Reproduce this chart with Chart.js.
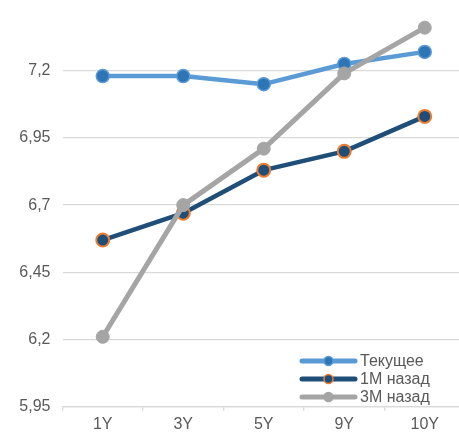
<!DOCTYPE html>
<html>
<head>
<meta charset="utf-8">
<script src="https://cdn.jsdelivr.net/npm/chart.js@4/dist/chart.umd.min.js"></script>
<style>
  html, body { margin: 0; padding: 0; background: #ffffff; overflow: hidden; }
  #wrap { position: absolute; left: 0; top: -5px; width: 480px; height: 437px; }
  canvas { display: block; }
</style>
</head>
<body>
<div id="wrap"><canvas id="chart" width="480" height="437" style="width:480px;height:437px"></canvas></div>
<script>
// Maturities along the curve
const categories = ['1Y', '3Y', '5Y', '9Y', '10Y'];

// Yield curve snapshots
const seriesNames = ['Текущее', '1M назад', '3M назад'];
const currentYields = [7.18, 7.18, 7.15, 7.225, 7.27];
const oneMonthAgo = [6.57, 6.67, 6.83, 6.90, 7.03];
const threeMonthsAgo = [6.21, 6.70, 6.91, 7.19, 7.36];

// Value axis grid
const yTicks = [5.95, 6.2, 6.45, 6.7, 6.95, 7.2];
const yMin = 5.95;
const yMax = 7.45;

const FONT = '"Liberation Sans", Arial, sans-serif';
const TEXT = '#595959';
const GRID = '#D9D9D9';

// Excel-style legend: short line with the marker in the middle
const lineLegend = {
  id: 'lineLegend',
  afterDraw(chart) {
    const ctx = chart.ctx;
    const x0 = 300, x1 = 355, tx = 360;
    const rows = [366, 384, 402];
    ctx.save();
    chart.data.datasets.forEach((ds, i) => {
      const y = rows[i];
      ctx.beginPath();
      ctx.lineCap = 'round';
      ctx.strokeStyle = ds.borderColor;
      ctx.lineWidth = 5;
      ctx.moveTo(x0 + 2, y);
      ctx.lineTo(x1, y);
      ctx.stroke();
      ctx.beginPath();
      ctx.arc((x0 + x1) / 2 + 1, y, 4.5, 0, Math.PI * 2);
      ctx.fillStyle = ds.pointBackgroundColor;
      ctx.fill();
      ctx.lineWidth = 1.5;
      ctx.strokeStyle = ds.pointBorderColor;
      ctx.stroke();
      ctx.fillStyle = TEXT;
      ctx.font = '16px ' + FONT;
      ctx.textBaseline = 'middle';
      ctx.textAlign = 'left';
      ctx.fillText(ds.label, tx, y + 1);
    });
    ctx.restore();
  }
};

new Chart(document.getElementById('chart'), {
  type: 'line',
  data: {
    labels: categories,
    datasets: [
      {
        label: seriesNames[0],
        data: currentYields,
        borderColor: '#5B9BD5',
        borderWidth: 4.5,
        pointRadius: 6.5,
        pointBackgroundColor: '#2E75B6',
        pointBorderColor: '#5B9BD5',
        pointBorderWidth: 1.5,
        order: 2
      },
      {
        label: seriesNames[1],
        data: oneMonthAgo,
        borderColor: '#1F4E79',
        borderWidth: 4.5,
        pointRadius: 6.5,
        pointBackgroundColor: '#1F4E79',
        pointBorderColor: '#ED7D31',
        pointBorderWidth: 2,
        order: 1
      },
      {
        label: seriesNames[2],
        data: threeMonthsAgo,
        borderColor: '#A5A5A5',
        borderWidth: 5,
        pointRadius: 6.5,
        pointBackgroundColor: '#A5A5A5',
        pointBorderColor: '#A5A5A5',
        pointBorderWidth: 1,
        order: 0
      }
    ]
  },
  options: {
    responsive: false,
    animation: false,
    devicePixelRatio: 1,
    elements: {
      line: { tension: 0, borderCapStyle: 'round', borderJoinStyle: 'round' }
    },
    layout: { padding: { left: 0, top: 1.5, right: 15, bottom: 0 } },
    plugins: {
      legend: { display: false },
      tooltip: { enabled: false },
      title: { display: false }
    },
    scales: {
      x: {
        offset: true,
        grid: {
          offset: true,
          drawOnChartArea: false,
          drawTicks: true,
          tickLength: 4,
          color: GRID,
          lineWidth: 1.3
        },
        border: { display: true, color: GRID, width: 1.3 },
        ticks: {
          color: TEXT,
          font: { family: FONT, size: 16 },
          padding: 4,
          maxRotation: 0
        },
        afterFit(scale) {
          scale.height = 25.3;
          scale.paddingLeft = 0;
          scale.paddingRight = 0;
        }
      },
      y: {
        min: yMin,
        max: yMax,
        grid: { color: GRID, lineWidth: 1.3, drawTicks: false },
        border: { display: false },
        ticks: {
          color: TEXT,
          font: { family: FONT, size: 16 },
          padding: 12,
          callback: (v) => String(+v.toFixed(2)).replace('.', ',')
        },
        afterBuildTicks(scale) { scale.ticks = yTicks.map(v => ({ value: v })); },
        afterFit(scale) {
          scale.width = 62.5;
          scale.paddingTop = 0;
          scale.paddingBottom = 0;
        }
      }
    }
  },
  plugins: [lineLegend]
});
</script>
</body>
</html>
